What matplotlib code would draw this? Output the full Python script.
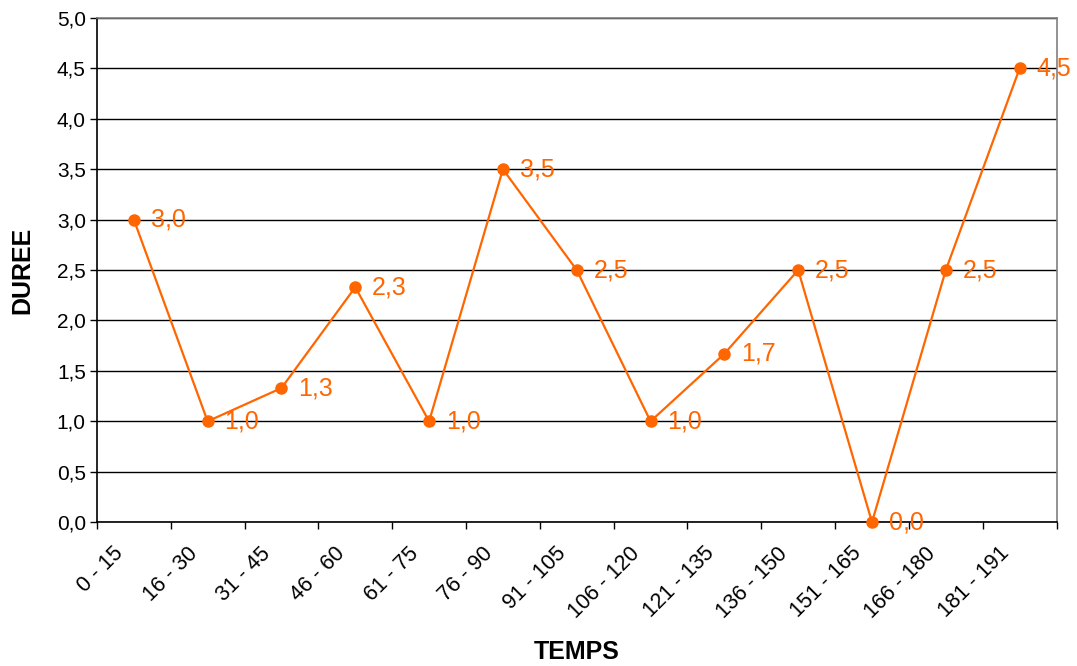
import numpy as np
import matplotlib
matplotlib.use("Agg")
import matplotlib.pyplot as plt
import matplotlib.transforms as mtransforms

plt.rcParams['font.family'] = ['Liberation Sans', 'DejaVu Sans']

# data
categories = ["0 - 15", "16 - 30", "31 - 45", "46 - 60", "61 - 75", "76 - 90",
              "91 - 105", "106 - 120", "121 - 135", "136 - 150", "151 - 165",
              "166 - 180", "181 - 191"]
duree = [3.0, 1.0, 1.33, 2.33, 1.0, 3.5, 2.5, 1.0, 1.67, 2.5, 0.0, 2.5, 4.5]
yticks = [0.0, 0.5, 1.0, 1.5, 2.0, 2.5, 3.0, 3.5, 4.0, 4.5, 5.0]

orange = "#FF6600"

fig = plt.figure(figsize=(10.77, 6.66), dpi=100)
ax = fig.add_axes([0.090, 0.216, 0.891, 0.757])

n = len(categories)
x = np.arange(n) + 0.5
ax.plot(x, duree, color=orange, linewidth=1.6, marker='o', markersize=8,
        zorder=3, clip_on=False)
for xi, v in zip(x, duree):
    ax.annotate(f"{v:.1f}".replace('.', ','), (xi, v), xytext=(12, 0),
                textcoords='offset points', ha='left', va='center',
                color=orange, fontsize=18, zorder=4, annotation_clip=False)

ax.set_xlim(0, n)
ax.set_ylim(0, 5)
ax.set_yticks(yticks)
ax.set_yticklabels([f"{t:.1f}".replace('.', ',') for t in yticks], fontsize=15)
ax.yaxis.grid(True, color='black', linewidth=1.0)
ax.set_axisbelow(True)

# tick marks at category boundaries, labels at centres
ax.set_xticks(np.arange(n + 1))
ax.set_xticklabels([])
ax.set_xticks(x, minor=True)
ax.set_xticklabels(categories, minor=True, rotation=45, ha='right',
                   va='top', rotation_mode='anchor', fontsize=15.5)
ax.tick_params(axis='x', which='minor', length=0, pad=15)
ax.tick_params(axis='x', which='major', direction='out', length=5, width=1)
ax.tick_params(axis='y', direction='out', length=5, width=1, pad=3)
shift = mtransforms.ScaledTranslation(-0.21, 0, fig.dpi_scale_trans)
for lbl in ax.get_xticklabels(minor=True):
    lbl.set_transform(lbl.get_transform() + shift)

for side in ['top', 'right']:
    ax.spines[side].set_color('#808080')
    ax.spines[side].set_linewidth(1.2)
for side in ['left', 'bottom']:
    ax.spines[side].set_color('black')
    ax.spines[side].set_linewidth(1.2)

ax.set_xlabel("TEMPS", fontsize=18, fontweight='bold', va='center')
ax.xaxis.set_label_coords(0.5, -0.258)
ax.set_ylabel("DUREE", fontsize=18, fontweight='bold', ha='center', va='center')
ax.yaxis.set_label_coords(-0.078, 0.5)

fig.savefig("out.png", dpi=100)
